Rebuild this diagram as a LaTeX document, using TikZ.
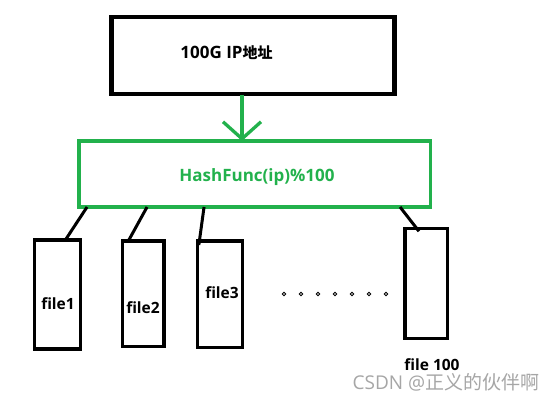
\documentclass[tikz,border=0pt]{standalone}
\usepackage{fontspec}
\setmainfont{Open Sans}
\newfontfamily\cjkfont{Noto Sans CJK SC}
\usetikzlibrary{calc, arrows.meta}

\definecolor{paintgreen}{RGB}{34,177,76}

\begin{document}
\begin{tikzpicture}[
  x=1pt, y=-1pt,
  every node/.style={inner sep=0pt, outer sep=0pt},
  srcbox/.style={rectangle, draw=black, line width=4.7pt,
                 minimum width=282.6pt, minimum height=77pt},
  hashbox/.style={rectangle, draw=paintgreen, line width=3.3pt,
                  minimum width=351.7pt, minimum height=66pt},
  filebox/.style={rectangle, draw=black, line width=3.3pt},
  boxtext/.style={font=\fontsize{17}{19}\bfseries\selectfont},
  filetext/.style={font=\fontsize{15.5}{17}\bfseries\selectfont},
  link/.style={draw=black, line width=3pt},
  bucketdot/.style={circle, draw=black, line width=0.9pt, minimum size=3.5pt}
]
\useasboundingbox (0,0) rectangle (557,400);

% --- Input block ---
\node[srcbox] (src) at (253,55.6) {};
\node[boxtext] (srctext) at (226.5,53) {100G IP{\cjkfont\bfseries\fontsize{15}{17}\selectfont 地址}};

% --- Hash block ---
\node[hashbox] (hash) at (254.9,174) {};
\node[boxtext, text=paintgreen] (hashtext) at (257,177) {HashFunc(ip)\%100};

\draw[paintgreen, line width=3.3pt, -{Straight Barb[length=17pt, width=38pt]}]
  ($(src.south)+(-11,1)$) -- ($(hash.north)+(-12.9,0)$);

% --- File buckets ---
\node[filebox, minimum width=46pt, minimum height=109pt] (file1) at (57.7,294.5) {};
\node[filebox, minimum width=41.7pt, minimum height=105.7pt] (file2) at (143.2,293.8) {};
\node[filebox, minimum width=45.3pt, minimum height=106.7pt] (file3) at (220,294.3) {};
\node[filebox, minimum width=42.7pt, minimum height=110pt] (file100) at (426.3,283.3) {};

\node[filetext] (lab1) at (58,304) {file1};
\node[filetext] (lab2) at (143,308) {file2};
\node[filetext] (lab3) at (222,293) {file3};
\node[filetext] (lab100) at (432,365) {file 100};

% --- Hash to bucket links ---
\draw[link] ($(hash.south west)+(8,0)$) -- ($(file1.north west)+(30,1)$);
\draw[link] ($(hash.south west)+(68,0)$) -- ($(file2.north west)+(6,0)$);
\draw[link] ($(hash.south west)+(125,0)$) -- ($(file3.north west)+(1.5,4)$);
\draw[link] ($(hash.south west)+(321,0)$) -- ($(file100.north west)+(14,3)$);

% --- Ellipsis dots ---
\foreach \i in {0,...,6}
  \node[bucketdot] (dot\i) at (284+17*\i,294) {};

% --- Watermark ---
\node[text=gray!70, font=\fontsize{19}{21}\selectfont] (mark) at (446,382.5)
  {CSDN @{\cjkfont 正义的伙伴啊}};

\end{tikzpicture}
\end{document}
